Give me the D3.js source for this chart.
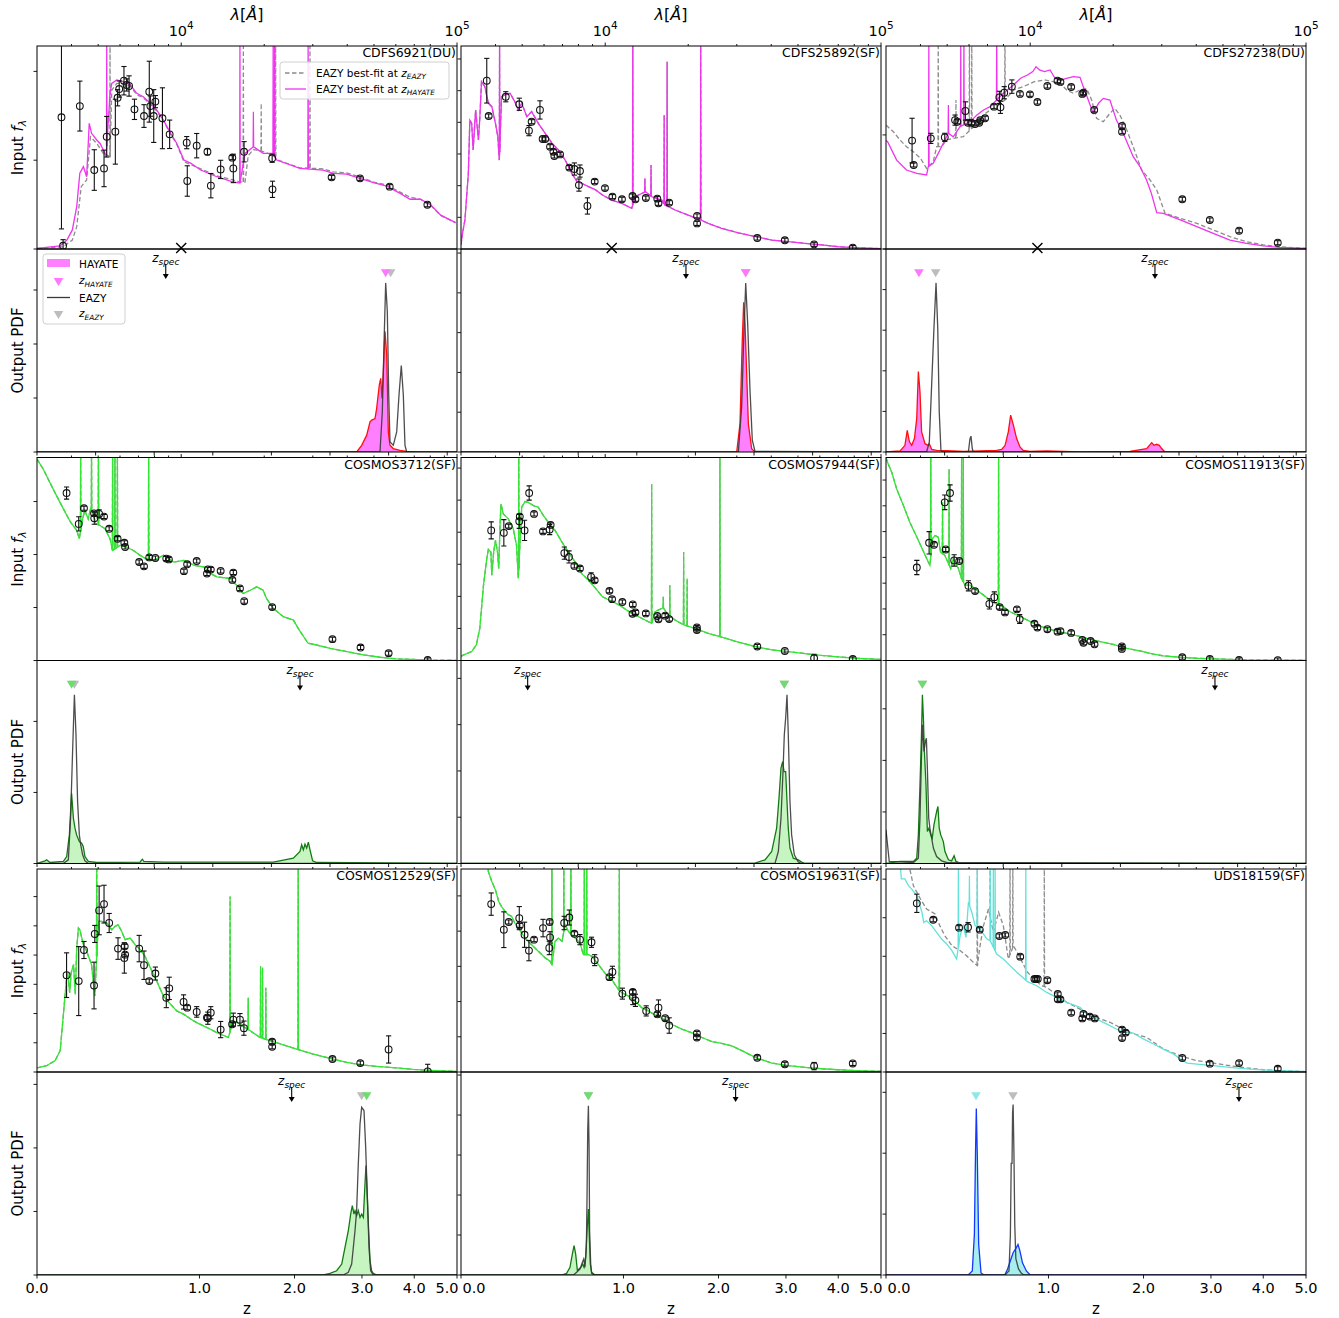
<!DOCTYPE html>
<html>
<head>
<meta charset="utf-8">
<script src="https://cdn.jsdelivr.net/npm/d3@7"></script>
<style>
  body { margin: 0; background: #fff; }
  svg { display: block; font-family: "DejaVu Sans", sans-serif; }
</style>
</head>
<body>
<svg id="fig" width="1339" height="1318"></svg>
<script>
// ---------------------------------------------------------------------------
// Sources, one per column/row cell (row-major)
const sources = ["CDFS6921(DU)", "CDFS25892(SF)", "CDFS27238(DU)",
                 "COSMOS3712(SF)", "COSMOS7944(SF)", "COSMOS11913(SF)",
                 "COSMOS12529(SF)", "COSMOS19631(SF)", "UDS18159(SF)"];

// Redshifts: HAYATE point estimate, EAZY point estimate, spectroscopic
const zHayate = [3.426, 2.369, 0.151, 0.159, 2.972, 0.168, 3.081, 0.722, 0.468];
const zEazy   = [3.521, 2.369, 0.236, 0.173, 2.972, 0.168, 2.995, 0.722, 0.719];
const zSpec   = [0.732, 1.611, 2.150, 2.071, 0.329, 3.069, 1.964, 2.227, 3.508];

// Observed wavelength of the break marker (first row only)
const breakLam = [10000, 10560, 10620];

// Unlabelled y tick spacing (normalised units)
const sedTickStep = [0.4375, 0.156, 0.562, 0.261, 0.158, 0.127, 0.144, 0.1735, 0.19];
const pdfTickStep = [0.266, 0.196, 0.2, 0.35, 0.228, 0.254, 0.313, 0.197, 0.3];

// Axis tick values
const lamMajor = [1e4, 1e5];
const lamMinor = [4000, 5000, 6000, 7000, 8000, 9000, 20000, 30000, 40000, 50000, 60000, 70000, 80000, 90000];
const zLabels = [0, 1, 2, 3, 4, 5];
const lnStep = [0, 0.25, 0.5, 0.75, 1.0, 1.25, 1.5, 1.75];

// ---------------------------------------------------------------------------
// Best-fit spectra [lambda (A), f_lambda normalised]
const specA_hay = [[3000,0.003],[3640,0.015],[3850,0.044],[4030,0.094],[4180,0.209],[4290,0.373],[4420,0.406],[4540,0.356],[4640,0.619],[4730,0.570],[4940,0.537],[5080,0.520],[5220,0.488],[5340,0.455],[5520,0.767],[5600,0.816],[5840,0.833],[6170,0.824],[6550,0.808],[6900,0.767],[7290,0.750],[7730,0.718],[8150,0.685],[8620,0.635],[9160,0.570],[9640,0.520],[10230,0.438],[10850,0.422],[11760,0.389],[13460,0.356],[15450,0.330],[16330,0.325],[17040,0.471],[18270,0.504],[19820,0.471],[21550,0.471],[22200,0.438],[26920,0.397],[32700,0.389],[35600,0.373],[39800,0.369],[44500,0.348],[49800,0.327],[55600,0.310],[62200,0.274],[67600,0.245],[73700,0.245],[80300,0.217],[87300,0.167],[98800,0.130]];
const specA_eazy = [[3000,0.003],[3730,0.011],[4030,0.044],[4180,0.110],[4340,0.307],[4540,0.340],[4690,0.553],[4940,0.520],[5220,0.471],[5520,0.455],[5600,0.783],[5840,0.816],[6170,0.816],[6550,0.800],[6900,0.760],[7290,0.745],[7730,0.713],[8150,0.680],[8620,0.630],[9160,0.565],[9640,0.515],[10230,0.430],[10850,0.415],[11760,0.395],[13460,0.360],[15450,0.340],[16330,0.330],[17040,0.330],[17500,0.460],[18270,0.490],[19820,0.480],[21550,0.460],[22200,0.440],[26920,0.400],[32700,0.395],[35600,0.380],[39800,0.375],[44500,0.355],[49800,0.330],[55600,0.315],[62200,0.280],[67600,0.255],[73700,0.245],[80300,0.215],[87300,0.165],[98800,0.130]];
const linesA_hay = [[5370,1.1],[16330,1.1],[18270,0.676],[21550,1.1],[21770,1.1],[28850,1.1]];
const linesA_eazy = [[5520,1.1],[16800,1.1],[19500,0.718],[22000,1.1],[29300,1.1]];

const specB = [[3000,0.02],[3040,0.080],[3100,0.143],[3190,0.373],[3230,0.635],[3280,0.619],[3320,0.488],[3390,0.685],[3470,0.537],[3510,0.644],[3560,0.824],[3660,0.800],[3770,0.718],[3880,0.701],[4000,0.619],[4080,0.553],[4130,0.438],[4210,0.750],[4330,0.759],[4520,0.767],[4700,0.726],[4840,0.685],[4980,0.718],[5200,0.652],[5410,0.677],[5720,0.619],[6060,0.570],[6410,0.521],[6770,0.488],[7160,0.438],[7560,0.373],[7910,0.332],[8220,0.323],[8700,0.307],[9230,0.291],[9770,0.266],[10560,0.241],[11480,0.225],[12480,0.200],[12830,0.258],[14000,0.282],[14740,0.258],[16020,0.241],[16450,0.217],[17940,0.192],[19980,0.167],[22200,0.143],[23630,0.126],[26420,0.102],[30400,0.080],[35000,0.061],[40200,0.044],[46100,0.036],[53000,0.028],[60900,0.020],[70000,0.011],[80400,0.007],[100000,0.002]];
const linesB = [[4140,1.1],[12590,1.1],[13930,0.348],[14660,0.414],[16360,0.660],[16770,0.923],[22200,1.1]];

const specC_hay = [[3000,0.535],[3040,0.529],[3280,0.438],[3560,0.389],[3880,0.373],[4210,0.365],[4270,0.406],[4450,0.422],[4640,0.471],[4840,0.521],[5050,0.570],[5260,0.553],[5570,0.603],[5880,0.619],[6140,0.635],[6410,0.660],[6770,0.685],[7160,0.701],[7560,0.734],[7990,0.767],[8700,0.808],[9230,0.841],[9770,0.857],[10220,0.874],[10500,0.898],[10800,0.882],[11270,0.874],[11800,0.882],[12300,0.841],[13000,0.833],[13560,0.841],[14340,0.849],[15150,0.846],[15570,0.800],[16240,0.734],[16920,0.668],[17700,0.718],[18400,0.742],[19460,0.734],[20540,0.635],[21740,0.570],[23630,0.455],[25000,0.406],[26420,0.340],[27500,0.274],[28760,0.179],[30400,0.176],[35000,0.143],[40200,0.110],[46100,0.077],[53000,0.044],[60900,0.028],[70000,0.015],[80400,0.008],[100000,0.003]];
const specC_eazy = [[3000,0.610],[3040,0.603],[3190,0.578],[3370,0.537],[3560,0.504],[3770,0.479],[4000,0.447],[4210,0.397],[4450,0.430],[4580,0.504],[4770,0.504],[4980,0.537],[5260,0.545],[5720,0.553],[6410,0.619],[6770,0.660],[7160,0.685],[7560,0.701],[8100,0.734],[8700,0.783],[9450,0.800],[10360,0.824],[11270,0.833],[12150,0.824],[12830,0.816],[13560,0.783],[14340,0.767],[15150,0.783],[16020,0.791],[16700,0.734],[17400,0.644],[18400,0.627],[19460,0.668],[20270,0.693],[21140,0.660],[22400,0.586],[23630,0.504],[25350,0.389],[27200,0.340],[28760,0.291],[30820,0.176],[35000,0.151],[40200,0.126],[46100,0.094],[53000,0.061],[60900,0.036],[70000,0.020],[80400,0.011],[100000,0.003]];
const linesC_hay = [[4290,1.1],[5050,0.709],[5600,1.1],[5750,1.1],[7560,1.1]];
const linesC_eazy = [[4640,1.1],[5380,0.734],[6020,1.1],[6140,1.1],[8100,1.1]];

const specD = [[3000,0.992],[3160,0.943],[3340,0.877],[3530,0.812],[3740,0.747],[3970,0.681],[4180,0.641],[4270,0.600],[4390,0.698],[4470,0.739],[4600,0.698],[4690,0.747],[4800,0.722],[4900,0.673],[5080,0.665],[5290,0.649],[5520,0.600],[5640,0.542],[6000,0.567],[6340,0.559],[6710,0.542],[7100,0.518],[7510,0.498],[7940,0.493],[8620,0.518],[9380,0.485],[10230,0.493],[11130,0.469],[12080,0.461],[12800,0.428],[13460,0.412],[15040,0.404],[15880,0.371],[16780,0.330],[17790,0.346],[18790,0.363],[19820,0.346],[20380,0.306],[21550,0.257],[23460,0.216],[25530,0.199],[26560,0.158],[27280,0.134],[28850,0.085],[30150,0.080],[34700,0.060],[39850,0.044],[45700,0.028],[52550,0.016],[60400,0.008],[69400,0.005],[79800,0.002],[99200,0.001]];
const linesD = [[4320,1.1],[4730,1.1],[5010,1.1],[5640,1.1],[5750,1.1],[5870,1.1],[7620,1.1]];

const specE = [[3000,0.020],[3040,0.025],[3280,0.044],[3410,0.077],[3510,0.158],[3620,0.371],[3720,0.502],[3770,0.547],[3850,0.534],[3880,0.420],[3940,0.534],[4000,0.592],[4070,0.534],[4110,0.453],[4160,0.681],[4190,0.771],[4270,0.722],[4450,0.698],[4640,0.649],[4770,0.567],[4840,0.404],[4980,0.755],[5120,0.783],[5260,0.779],[5490,0.763],[5720,0.755],[5970,0.714],[6220,0.681],[6580,0.641],[6970,0.583],[7350,0.534],[7790,0.485],[8220,0.428],[8700,0.395],[9230,0.355],[9770,0.314],[10360,0.297],[10970,0.281],[11480,0.265],[12480,0.232],[13560,0.208],[14740,0.183],[15150,0.240],[15570,0.248],[16240,0.260],[16920,0.224],[17940,0.199],[19300,0.175],[21140,0.158],[23630,0.134],[26060,0.118],[27980,0.105],[30400,0.090],[35000,0.069],[40200,0.052],[46100,0.044],[53000,0.034],[60900,0.025],[70000,0.018],[80400,0.011],[100000,0.005]];
const linesE = [[4860,1.1],[14740,0.869],[16240,0.314],[17150,0.371],[19250,0.534],[19820,0.404],[26060,1.1]];

const specF = [[3000,1.0],[3040,0.975],[3150,0.926],[3280,0.845],[3470,0.763],[3660,0.681],[3880,0.608],[4110,0.534],[4270,0.485],[4330,0.469],[4420,0.600],[4520,0.616],[4640,0.608],[4730,0.534],[4900,0.518],[5150,0.453],[5260,0.502],[5490,0.453],[5640,0.404],[5800,0.371],[6060,0.371],[6410,0.346],[6770,0.322],[7160,0.297],[7680,0.273],[7990,0.265],[8450,0.240],[8950,0.224],[9770,0.199],[10560,0.175],[11480,0.158],[12480,0.145],[13560,0.134],[14740,0.123],[16020,0.109],[17940,0.093],[19980,0.080],[22400,0.060],[25000,0.047],[28000,0.031],[30400,0.023],[35000,0.016],[40200,0.011],[46100,0.008],[60900,0.003],[80400,0.002],[100000,0.001]];
const linesF = [[4360,1.1],[4810,0.779],[5080,0.943],[5640,1.1],[5720,1.1],[7680,1.1]];

const specG = [[3000,0.020],[3250,0.031],[3490,0.056],[3640,0.105],[3740,0.284],[3840,0.464],[3880,0.489],[3940,0.391],[3990,0.489],[4070,0.529],[4130,0.382],[4180,0.611],[4240,0.709],[4290,0.701],[4420,0.627],[4540,0.595],[4730,0.529],[4860,0.374],[5010,0.742],[5150,0.742],[5370,0.734],[5600,0.701],[5750,0.717],[5910,0.725],[6080,0.693],[6260,0.652],[6530,0.660],[6810,0.627],[7100,0.603],[7390,0.570],[7730,0.513],[8150,0.448],[8620,0.374],[9160,0.333],[9640,0.301],[10230,0.284],[10850,0.260],[11380,0.243],[12400,0.219],[13460,0.194],[14830,0.170],[15450,0.252],[16330,0.235],[17790,0.203],[19300,0.170],[20980,0.154],[23460,0.134],[26200,0.113],[30150,0.088],[34700,0.067],[39850,0.047],[45700,0.034],[52550,0.026],[60400,0.020],[69400,0.013],[79800,0.008],[99200,0.003]];
const linesG = [[4940,1.1],[15040,0.864],[17500,0.366],[19400,0.521],[19720,0.513],[20270,0.415],[26560,1.1]];

const specH = [[3600,1.2],[3770,0.987],[3880,0.938],[4000,0.897],[4110,0.840],[4210,0.815],[4330,0.791],[4450,0.775],[4580,0.766],[4700,0.734],[4840,0.709],[4980,0.685],[5120,0.660],[5410,0.627],[5720,0.595],[6060,0.562],[6310,0.546],[6410,0.529],[6580,0.644],[6770,0.660],[6970,0.644],[7160,0.725],[7350,0.693],[7560,0.676],[7790,0.660],[8100,0.636],[8330,0.578],[8700,0.578],[8950,0.570],[9450,0.529],[10080,0.480],[10560,0.456],[11150,0.407],[11480,0.391],[12150,0.374],[12830,0.350],[13560,0.317],[14340,0.301],[15150,0.281],[16020,0.265],[17400,0.235],[18960,0.211],[20540,0.194],[22400,0.170],[24380,0.150],[26420,0.141],[28760,0.129],[31300,0.105],[35000,0.072],[40200,0.044],[46100,0.031],[53000,0.023],[60900,0.016],[70000,0.011],[80400,0.007],[100000,0.003]];
const linesH = [[6410,1.1],[7080,1.1],[7510,1.1],[8400,1.1],[8570,1.1],[11250,1.1]];

const specI_hay = [[3300,1.1],[3390,1.0],[3410,0.951],[3510,0.951],[3620,0.918],[3720,0.901],[3880,0.869],[4050,0.787],[4110,0.737],[4210,0.745],[4390,0.721],[4580,0.688],[4770,0.655],[4980,0.631],[5200,0.598],[5410,0.557],[5570,0.672],[5720,0.721],[5850,0.663],[5970,0.836],[6140,0.787],[6310,0.721],[6580,0.704],[6970,0.655],[7160,0.647],[7560,0.581],[7990,0.557],[8450,0.524],[8950,0.491],[9770,0.445],[10560,0.425],[11480,0.392],[12480,0.368],[13560,0.343],[15150,0.319],[16020,0.286],[17400,0.261],[18960,0.236],[20540,0.212],[21740,0.195],[23630,0.192],[25700,0.163],[28000,0.138],[30400,0.113],[33040,0.089],[35000,0.064],[37100,0.044],[40200,0.039],[46100,0.031],[53000,0.023],[60900,0.015],[70000,0.010],[80400,0.007],[100000,0.002]];
const specI_eazy = [[3600,1.1],[3660,1.0],[3770,0.918],[4000,0.852],[4210,0.803],[4520,0.778],[4700,0.721],[4900,0.672],[5200,0.622],[5570,0.598],[5880,0.573],[6220,0.540],[6430,0.524],[6580,0.622],[6770,0.721],[7060,0.803],[7350,0.688],[7680,0.787],[7990,0.721],[8330,0.557],[8700,0.622],[9230,0.557],[9770,0.491],[10360,0.458],[10970,0.425],[11480,0.417],[12150,0.392],[12830,0.376],[13560,0.343],[14340,0.327],[15150,0.310],[16450,0.286],[17940,0.261],[19460,0.245],[21140,0.220],[23630,0.188],[26420,0.171],[30400,0.113],[35000,0.080],[40200,0.056],[46100,0.044],[53000,0.031],[60900,0.020],[70000,0.011],[80400,0.007],[100000,0.002]];
const linesI_hay = [[5490,1.1],[6020,0.967],[6430,1.1],[7160,1.1],[7350,1.1],[7460,1.1],[9640,1.1]];
const linesI_eazy = [[6430,1.1],[7160,1.1],[8450,1.1],[8650,1.1],[11250,1.1]];

// ---------------------------------------------------------------------------
// Input photometry [lambda (A), f_lambda, error]
const photA = [[3680,0.649,0.55],[3730,0.016,0.03],[4290,0.704,0.123],[4840,0.389,0.10],[5250,0.397,0.09],[5370,0.553,0.10],[5770,0.578,0.16],[5880,0.745,0.04],[5960,0.788,0.04],[6200,0.829,0.07],[6340,0.808,0.03],[6470,0.803,0.05],[6770,0.688,0.05],[7330,0.655,0.056],[7660,0.775,0.15],[7730,0.704,0.05],[7950,0.655,0.13],[8060,0.726,0.03],[8550,0.644,0.15],[9080,0.565,0.07],[10470,0.524,0.03],[10520,0.335,0.075],[11380,0.509,0.06],[12450,0.479,0.015],[12810,0.312,0.06],[13900,0.392,0.045],[15320,0.450,0.01],[15450,0.397,0.07],[16900,0.479,0.05],[21370,0.447,0.02],[21430,0.294,0.04],[35100,0.353,0.01],[44500,0.348,0.01],[57000,0.307,0.01],[78100,0.218,0.01]];
const photB = [[3720,0.829,0.11],[3780,0.655,0.01],[4360,0.750,0.025],[4880,0.713,0.03],[5290,0.583,0.025],[5410,0.627,0.01],[5800,0.685,0.045],[5930,0.542,0.01],[6060,0.542,0.01],[6310,0.504,0.01],[6490,0.479,0.01],[6540,0.458,0.01],[6860,0.466,0.01],[7410,0.401,0.01],[7730,0.394,0.03],[8100,0.384,0.03],[8030,0.315,0.03],[8620,0.212,0.04],[9160,0.332,0.01],[9980,0.300,0.01],[10620,0.258,0.01],[11500,0.245,0.01],[12560,0.261,0.01],[12870,0.245,0.01],[14040,0.251,0.01],[15450,0.248,0.01],[15600,0.225,0.01],[17060,0.228,0.01],[21530,0.163,0.01],[21530,0.126,0.01],[35600,0.054,0.01],[44800,0.043,0.01],[57200,0.023,0.01],[79000,0.007,0.01]];
const photC = [[3730,0.534,0.11],[3780,0.414,0.01],[4360,0.545,0.025],[4900,0.550,0.02],[5340,0.635,0.025],[5440,0.627,0.01],[5820,0.680,0.045],[5950,0.622,0.01],[6120,0.622,0.01],[6310,0.616,0.01],[6530,0.622,0.01],[6590,0.635,0.01],[6860,0.644,0.01],[7390,0.701,0.01],[7730,0.747,0.03],[7800,0.698,0.03],[8050,0.770,0.03],[8580,0.800,0.033],[9180,0.764,0.01],[9980,0.762,0.01],[10620,0.724,0.01],[11540,0.803,0.01],[12560,0.829,0.01],[12870,0.823,0.01],[14080,0.798,0.01],[15450,0.764,0.01],[15600,0.770,0.01],[17060,0.685,0.01],[21530,0.606,0.01],[21530,0.578,0.01],[35600,0.245,0.01],[44800,0.143,0.01],[57200,0.090,0.01],[79000,0.031,0.01]];
const photD = [[3840,0.825,0.03],[4250,0.673,0.035],[4440,0.750,0.01],[4830,0.725,0.01],[4840,0.701,0.03],[5040,0.722,0.02],[5250,0.709,0.01],[5480,0.649,0.01],[5880,0.600,0.01],[6220,0.580,0.01],[6260,0.559,0.01],[7040,0.485,0.01],[7330,0.464,0.01],[7660,0.508,0.01],[8060,0.505,0.01],[8830,0.502,0.01],[9020,0.498,0.01],[10230,0.440,0.01],[10510,0.474,0.01],[11380,0.490,0.01],[12400,0.428,0.01],[12490,0.449,0.01],[12800,0.448,0.01],[13900,0.441,0.01],[15330,0.397,0.01],[15450,0.433,0.01],[16330,0.355,0.01],[16920,0.292,0.01],[21370,0.263,0.01],[35350,0.105,0.01],[44700,0.064,0.01],[56500,0.036,0.01],[78300,0.003,0.01]];
const photE = [[3860,0.641,0.042],[4290,0.629,0.065],[4470,0.662,0.01],[4880,0.686,0.035],[4900,0.709,0.01],[5100,0.641,0.05],[5300,0.825,0.035],[5520,0.722,0.01],[5950,0.636,0.01],[6290,0.645,0.025],[6340,0.668,0.01],[7110,0.529,0.03],[7390,0.510,0.03],[7730,0.466,0.01],[8100,0.453,0.01],[8890,0.412,0.02],[9160,0.395,0.01],[10360,0.343,0.01],[10590,0.302,0.01],[11540,0.288,0.01],[12590,0.276,0.01],[12560,0.230,0.01],[12870,0.237,0.01],[14040,0.232,0.01],[15450,0.219,0.01],[15600,0.203,0.01],[16500,0.221,0.01],[17060,0.204,0.01],[21500,0.163,0.01],[21500,0.150,0.01],[35600,0.069,0.01],[44800,0.047,0.01],[57200,0.011,0.02],[79000,0.008,0.01]];
const photF = [[3880,0.458,0.035],[4300,0.580,0.055],[4480,0.570,0.01],[4900,0.779,0.036],[4940,0.547,0.01],[5120,0.825,0.04],[5300,0.493,0.028],[5530,0.490,0.01],[5970,0.368,0.025],[6310,0.342,0.01],[7110,0.279,0.025],[7410,0.312,0.026],[7750,0.263,0.01],[8100,0.237,0.01],[8950,0.252,0.01],[9160,0.204,0.022],[10360,0.181,0.01],[10620,0.162,0.01],[11540,0.154,0.01],[12560,0.142,0.01],[12870,0.145,0.01],[14080,0.136,0.01],[15450,0.101,0.01],[15600,0.087,0.01],[16550,0.096,0.01],[17110,0.080,0.01],[21500,0.069,0.01],[21500,0.057,0.01],[35600,0.016,0.01],[44800,0.008,0.01],[57200,0.003,0.01],[79000,0.002,0.01]];
const photG = [[3840,0.477,0.11],[4250,0.448,0.17],[4440,0.601,0.042],[4830,0.426,0.115],[4860,0.680,0.042],[5040,0.796,0.12],[5250,0.827,0.093],[5480,0.734,0.047],[5900,0.608,0.053],[6220,0.562,0.075],[6260,0.578,0.01],[6240,0.619,0.01],[7040,0.608,0.065],[7330,0.526,0.07],[7660,0.448,0.01],[8060,0.485,0.032],[8830,0.366,0.049],[9050,0.412,0.055],[10200,0.345,0.035],[10510,0.317,0.01],[11380,0.296,0.026],[12400,0.268,0.01],[12490,0.265,0.03],[12800,0.292,0.03],[13900,0.209,0.04],[15300,0.235,0.01],[15450,0.258,0.032],[16330,0.258,0.03],[16880,0.216,0.035],[21370,0.149,0.01],[21370,0.124,0.01],[35350,0.064,0.01],[44600,0.044,0.01],[56500,0.111,0.067],[78300,0.003,0.035]];
const photH = [[3860,0.827,0.055],[4290,0.701,0.088],[4470,0.739,0.01],[4880,0.758,0.057],[4900,0.722,0.01],[5100,0.676,0.062],[5290,0.598,0.05],[5520,0.652,0.01],[5950,0.709,0.043],[6290,0.739,0.01],[6270,0.611,0.033],[6310,0.663,0.028],[7100,0.734,0.033],[7410,0.761,0.037],[7730,0.681,0.01],[8100,0.652,0.025],[8920,0.639,0.025],[9160,0.551,0.027],[10360,0.467,0.01],[10620,0.493,0.028],[11540,0.386,0.027],[12590,0.394,0.01],[12590,0.369,0.037],[12870,0.353,0.03],[14080,0.301,0.025],[15450,0.284,0.01],[15600,0.317,0.038],[16500,0.265,0.01],[17060,0.229,0.038],[21500,0.190,0.01],[21500,0.170,0.01],[35600,0.070,0.01],[44800,0.038,0.01],[57200,0.029,0.018],[79000,0.042,0.01]];
const photI = [[3880,0.831,0.045],[4450,0.750,0.01],[5520,0.711,0.01],[5950,0.713,0.023],[6560,0.701,0.01],[7730,0.670,0.01],[8120,0.675,0.01],[9200,0.568,0.01],[10360,0.458,0.01],[10500,0.458,0.01],[10650,0.458,0.01],[11540,0.452,0.01],[12590,0.384,0.01],[12590,0.358,0.01],[12870,0.358,0.01],[14080,0.292,0.01],[15450,0.264,0.01],[15600,0.286,0.01],[16450,0.273,0.01],[17150,0.264,0.01],[21530,0.209,0.01],[21530,0.167,0.01],[22200,0.194,0.01],[35600,0.069,0.01],[44800,0.041,0.01],[57200,0.044,0.01],[79000,0.016,0.01]];

// ---------------------------------------------------------------------------
// Redshift PDFs [z, p normalised]
const pdfA_hay = [[0,0],[2.911,0],[2.995,0.033],[3.082,0.083],[3.140,0.149],[3.170,0.157],[3.229,0.165],[3.259,0.215],[3.307,0.330],[3.333,0.363],[3.357,0.264],[3.382,0.396],[3.413,0.594],[3.445,0.479],[3.476,0.099],[3.508,0.033],[3.572,0.017],[3.705,0.008],[3.841,0.003],[4.052,0],[5,0]];
const pdfA_eazy = [[0,0],[3.320,0],[3.363,0.198],[3.394,0.528],[3.426,0.833],[3.457,0.693],[3.484,0.281],[3.508,0.050],[3.572,0.033],[3.639,0.099],[3.685,0.281],[3.731,0.426],[3.772,0.281],[3.806,0.033],[3.841,0],[5,0]];
const pdfB_hay = [[0,0],[2.242,0],[2.288,0.140],[2.320,0.552],[2.340,0.738],[2.359,0.634],[2.383,0.387],[2.407,0.140],[2.456,0.016],[2.505,0],[5,0]];
const pdfB_eazy = [[0,0],[2.265,0],[2.311,0.222],[2.340,0.552],[2.369,0.832],[2.397,0.634],[2.431,0.305],[2.465,0.058],[2.505,0.003],[5,0]];
const pdfC_hay = [[0,0],[0.062,0.005],[0.084,0.033],[0.095,0.107],[0.105,0.050],[0.116,0.033],[0.129,0.066],[0.140,0.165],[0.148,0.396],[0.156,0.297],[0.164,0.099],[0.181,0.041],[0.198,0.033],[0.203,0.040],[0.215,0.013],[0.241,0.008],[0.295,0.007],[0.391,0.003],[0.493,0.005],[0.603,0.008],[0.638,0.013],[0.662,0.033],[0.685,0.099],[0.702,0.182],[0.722,0.132],[0.746,0.066],[0.771,0.025],[0.796,0.008],[0.848,0.003],[0.985,0.005],[1.288,0],[1.832,0.003],[2.040,0.017],[2.106,0.046],[2.137,0.033],[2.173,0.038],[2.209,0.033],[2.241,0.017],[2.288,0],[5,0]];
const pdfC_eazy = [[0,0],[0.189,0],[0.203,0.050],[0.215,0.330],[0.227,0.611],[0.238,0.833],[0.247,0.611],[0.255,0.198],[0.264,0.008],[0.277,0],[0.421,0],[0.431,0.066],[0.437,0.078],[0.445,0.017],[0.451,0],[5,0]];
const pdfD_hay = [[0,0],[0.035,0.013],[0.042,0.018],[0.057,0.005],[0.119,0.010],[0.135,0.034],[0.148,0.141],[0.159,0.346],[0.168,0.223],[0.176,0.174],[0.184,0.141],[0.198,0.108],[0.210,0.100],[0.218,0.084],[0.227,0.034],[0.245,0.010],[0.290,0.005],[0.552,0.007],[0.567,0.021],[0.578,0.010],[0.714,0.007],[1.741,0.007],[1.985,0.026],[2.071,0.059],[2.093,0.092],[2.115,0.067],[2.137,0.095],[2.160,0.076],[2.182,0.105],[2.205,0.067],[2.241,0.013],[2.297,0.005],[5,0]];
const pdfD_eazy = [[0,0],[0.119,0],[0.143,0.018],[0.154,0.223],[0.164,0.552],[0.173,0.831],[0.181,0.634],[0.189,0.305],[0.198,0.141],[0.205,0.092],[0.215,0.043],[0.227,0.013],[0.245,0],[5,0]];
const pdfE_hay = [[0,0],[2.505,0.002],[2.658,0.018],[2.764,0.059],[2.844,0.174],[2.883,0.322],[2.916,0.470],[2.944,0.502],[2.967,0.453],[2.995,0.453],[3.018,0.305],[3.040,0.174],[3.069,0.076],[3.127,0.026],[3.216,0.018],[3.277,0.007],[3.338,0],[5,0]];
const pdfE_eazy = [[0,0],[2.817,0],[2.872,0.059],[2.916,0.223],[2.950,0.453],[2.972,0.634],[2.995,0.716],[3.018,0.831],[3.040,0.634],[3.069,0.305],[3.098,0.141],[3.145,0.043],[3.216,0.007],[3.277,0],[5,0]];
const pdfF_hay = [[0,0],[0.062,0.010],[0.124,0.010],[0.140,0.026],[0.148,0.141],[0.156,0.388],[0.163,0.617],[0.168,0.831],[0.173,0.716],[0.178,0.552],[0.186,0.388],[0.193,0.158],[0.201,0.174],[0.210,0.141],[0.218,0.125],[0.227,0.190],[0.234,0.223],[0.241,0.256],[0.248,0.281],[0.255,0.174],[0.263,0.141],[0.270,0.125],[0.277,0.108],[0.286,0.059],[0.305,0.018],[0.323,0.013],[0.337,0.038],[0.348,0.010],[0.371,0.002],[5,0]];
const pdfF_eazy = [[0,0.166],[0.014,0.010],[0.124,0.005],[0.148,0.026],[0.156,0.223],[0.164,0.552],[0.169,0.683],[0.176,0.552],[0.183,0.601],[0.188,0.617],[0.193,0.470],[0.200,0.223],[0.206,0.174],[0.215,0.125],[0.224,0.076],[0.241,0.034],[0.268,0.013],[0.295,0.005],[5,0]];
const pdfG_hay = [[0,0],[2.392,0],[2.490,0.008],[2.591,0.021],[2.669,0.054],[2.721,0.136],[2.774,0.218],[2.812,0.300],[2.839,0.342],[2.866,0.300],[2.883,0.317],[2.910,0.292],[2.938,0.317],[2.967,0.284],[2.995,0.300],[3.024,0.284],[3.052,0.448],[3.069,0.539],[3.093,0.383],[3.116,0.218],[3.140,0.071],[3.169,0.021],[3.199,0.008],[3.259,0],[5,0]];
const pdfG_eazy = [[0,0],[2.694,0],[2.774,0.013],[2.828,0.054],[2.883,0.218],[2.910,0.317],[2.938,0.547],[2.967,0.744],[2.995,0.826],[3.035,0.810],[3.064,0.629],[3.093,0.383],[3.122,0.136],[3.151,0.021],[3.199,0],[5,0]];
const pdfH_hay = [[0,0],[0.536,0],[0.569,0.008],[0.592,0.038],[0.608,0.103],[0.620,0.145],[0.631,0.103],[0.643,0.021],[0.654,0.030],[0.668,0.038],[0.680,0.054],[0.690,0.038],[0.702,0.087],[0.712,0.218],[0.722,0.325],[0.729,0.186],[0.736,0.054],[0.746,0.013],[0.771,0],[5,0]];
const pdfH_eazy = [[0,0],[0.615,0],[0.638,0.013],[0.662,0.030],[0.678,0.062],[0.688,0.079],[0.697,0.038],[0.707,0.136],[0.712,0.383],[0.717,0.711],[0.722,0.834],[0.727,0.629],[0.731,0.218],[0.739,0.054],[0.746,0.008],[0.766,0],[5,0]];
const pdfI_hay = [[0,0],[0.420,0],[0.445,0.02],[0.458,0.20],[0.465,0.60],[0.470,0.82],[0.476,0.60],[0.485,0.15],[0.500,0.01],[0.520,0],[0.660,0],[0.680,0.03],[0.700,0.07],[0.720,0.11],[0.740,0.13],[0.756,0.15],[0.770,0.12],[0.790,0.06],[0.820,0.02],[0.850,0],[5,0]];
const pdfI_eazy = [[0,0],[0.660,0],[0.690,0.02],[0.700,0.20],[0.706,0.55],[0.712,0.55],[0.716,0.80],[0.720,0.84],[0.726,0.60],[0.732,0.25],[0.740,0.08],[0.760,0.03],[0.780,0.01],[0.800,0],[5,0]];

// ---------------------------------------------------------------------------
// Colour sets for the HAYATE-side curves
const themes = {
  magenta: { line: "#ef33ef", fill: "#ff80ff", edge: "#ff1010", tri: "#ff77ff" },
  green:   { line: "#33e633", fill: "#c6f5c2", edge: "#137a13", tri: "#6fdc6f" },
  cyan:    { line: "#62e2da", fill: "#a8eeee", edge: "#1437ff", tri: "#8fe8e8" }
};

const panelTable = [
  { specHay: specA_hay, specEazy: specA_eazy, linesHay: linesA_hay, linesEazy: linesA_eazy, phot: photA, pdfHay: pdfA_hay, pdfEazy: pdfA_eazy, theme: "magenta" },
  { specHay: specB, specEazy: specB, linesHay: linesB, linesEazy: linesB, phot: photB, pdfHay: pdfB_hay, pdfEazy: pdfB_eazy, theme: "magenta" },
  { specHay: specC_hay, specEazy: specC_eazy, linesHay: linesC_hay, linesEazy: linesC_eazy, phot: photC, pdfHay: pdfC_hay, pdfEazy: pdfC_eazy, theme: "magenta" },
  { specHay: specD, specEazy: specD, linesHay: linesD, linesEazy: linesD, phot: photD, pdfHay: pdfD_hay, pdfEazy: pdfD_eazy, theme: "green" },
  { specHay: specE, specEazy: specE, linesHay: linesE, linesEazy: linesE, phot: photE, pdfHay: pdfE_hay, pdfEazy: pdfE_eazy, theme: "green" },
  { specHay: specF, specEazy: specF, linesHay: linesF, linesEazy: linesF, phot: photF, pdfHay: pdfF_hay, pdfEazy: pdfF_eazy, theme: "green" },
  { specHay: specG, specEazy: specG, linesHay: linesG, linesEazy: linesG, phot: photG, pdfHay: pdfG_hay, pdfEazy: pdfG_eazy, theme: "green" },
  { specHay: specH, specEazy: specH, linesHay: linesH, linesEazy: linesH, phot: photH, pdfHay: pdfH_hay, pdfEazy: pdfH_eazy, theme: "green" },
  { specHay: specI_hay, specEazy: specI_eazy, linesHay: linesI_hay, linesEazy: linesI_eazy, phot: photI, pdfHay: pdfI_hay, pdfEazy: pdfI_eazy, theme: "cyan" }
];

// ---------------------------------------------------------------------------
// Layout
const colLeft = [37, 461, 886];
const colW = 420;
const rowTop = [46, 457.5, 869];
const axH = 203;
const EAZY_LINE = "#3a3a3a";
const EAZY_TRI = "#bdbdbd";
const MODEL_GRAY = "#8c8c8c";

const svg = d3.select("#fig");
const defs = svg.append("defs");

function contAt(spec, lam) {
  const i = d3.bisector(d => d[0]).left(spec, lam);
  if (i <= 0) return spec[0][1];
  if (i >= spec.length) return spec[spec.length - 1][1];
  const a = spec[i - 1], b = spec[i];
  const t = (Math.log(lam) - Math.log(a[0])) / (Math.log(b[0]) - Math.log(a[0]));
  return a[1] + t * (b[1] - a[1]);
}

function downTri(g, x, y, color) {
  return g.append("path")
    .attr("d", `M${x - 4.8},${y - 4}L${x + 4.8},${y - 4}L${x},${y + 4}Z`)
    .attr("fill", color);
}

function zspecLabel(g, x, y) {
  const t = g.append("text").attr("x", x).attr("y", y).attr("text-anchor", "middle")
    .attr("font-size", 12).attr("font-style", "italic").attr("fill", "#000");
  t.append("tspan").text("z");
  t.append("tspan").attr("font-size", 9).attr("dy", 3).text("spec");
}

panelTable.forEach((p, i) => {
  const c = i % 3, r = Math.floor(i / 3);
  const th = themes[p.theme];
  const x0 = colLeft[c], x1 = x0 + colW;
  const sTop = rowTop[r], sBot = sTop + axH, pBot = sBot + axH;

  const xL = d3.scaleLog().domain([3000, 1e5]).range([x0, x1]);
  const yS = d3.scaleLinear().domain([0, 1]).range([sBot, sTop]);
  const xZ = d3.scaleLog().domain([1, 6]).range([x0, x1]);   // plotted in ln(1+z)
  const yP = d3.scaleLinear().domain([0, 1]).range([pBot, sBot]);

  defs.append("clipPath").attr("id", "cs" + i).append("rect")
    .attr("x", x0).attr("y", sTop).attr("width", colW).attr("height", axH);
  defs.append("clipPath").attr("id", "cp" + i).append("rect")
    .attr("x", x0).attr("y", sBot).attr("width", colW).attr("height", axH);

  // ---- SED panel ----
  const gs = svg.append("g").attr("clip-path", `url(#cs${i})`);
  const line = d3.line().x(d => xL(d[0])).y(d => yS(d[1]));
  const spike = (spec, l) => {
    const base = contAt(spec, l[0]);
    return line([[l[0] / 1.0025, base], [l[0], l[1]], [l[0] * 1.0025, base]]);
  };

  gs.append("path").attr("d", line(p.specEazy)).attr("fill", "none")
    .attr("stroke", MODEL_GRAY).attr("stroke-width", 1.3).attr("stroke-dasharray", "4.5,2.5");
  p.linesEazy.forEach(l => gs.append("path").attr("d", spike(p.specEazy, l)).attr("fill", "none")
    .attr("stroke", MODEL_GRAY).attr("stroke-width", 1.2).attr("stroke-dasharray", "4.5,2.5"));

  gs.append("path").attr("d", line(p.specHay)).attr("fill", "none")
    .attr("stroke", th.line).attr("stroke-width", 1.3);
  p.linesHay.forEach(l => gs.append("path").attr("d", spike(p.specHay, l)).attr("fill", "none")
    .attr("stroke", th.line).attr("stroke-width", 1.2));

  p.phot.forEach(d => {
    const x = xL(d[0]), y = yS(d[1]), ya = yS(d[1] + d[2]), yb = yS(d[1] - d[2]);
    gs.append("line").attr("x1", x).attr("x2", x).attr("y1", ya).attr("y2", yb)
      .attr("stroke", "#111").attr("stroke-width", 1.1);
    [ya, yb].forEach(yy => gs.append("line").attr("x1", x - 2.6).attr("x2", x + 2.6)
      .attr("y1", yy).attr("y2", yy).attr("stroke", "#111").attr("stroke-width", 1.1));
    gs.append("circle").attr("cx", x).attr("cy", y).attr("r", 3.4)
      .attr("fill", "none").attr("stroke", "#111").attr("stroke-width", 1.05);
  });

  // ---- PDF panel ----
  const gp = svg.append("g").attr("clip-path", `url(#cp${i})`);
  const zx = d => xZ(1 + d[0]);
  gp.append("path").attr("d", d3.area().x(zx).y0(pBot).y1(d => yP(d[1]))(p.pdfHay))
    .attr("fill", th.fill);
  gp.append("path").attr("d", d3.line().x(zx).y(d => yP(d[1]))(p.pdfHay))
    .attr("fill", "none").attr("stroke", th.edge).attr("stroke-width", 1.3);
  gp.append("path").attr("d", d3.line().x(zx).y(d => yP(d[1]))(p.pdfEazy))
    .attr("fill", "none").attr("stroke", EAZY_LINE).attr("stroke-width", 1.3).attr("stroke-opacity", 0.9);

  const yTri = yP(0.88);
  downTri(gp, xZ(1 + zEazy[i]), yTri, EAZY_TRI);
  downTri(gp, xZ(1 + zHayate[i]), yTri, th.tri);
  const xs = xZ(1 + zSpec[i]);
  zspecLabel(svg, xs, sBot + 13);
  svg.append("line").attr("x1", xs).attr("x2", xs).attr("y1", sBot + 15).attr("y2", sBot + 27)
    .attr("stroke", "#000").attr("stroke-width", 1.1);
  svg.append("path").attr("d", `M${xs - 3},${sBot + 25}L${xs + 3},${sBot + 25}L${xs},${sBot + 30}Z`)
    .attr("fill", "#000");

  // ---- ticks ----
  const tk = svg.append("g").attr("stroke", "#000").attr("stroke-width", 0.9);
  d3.range(0, 1.0001, sedTickStep[i]).forEach(t => tk.append("line")
    .attr("x1", x0 - 3.5).attr("x2", x0).attr("y1", yS(t)).attr("y2", yS(t)));
  d3.range(0, 1.0001, pdfTickStep[i]).forEach(t => tk.append("line")
    .attr("x1", x0 - 3.5).attr("x2", x0).attr("y1", yP(t)).attr("y2", yP(t)));
  lamMajor.forEach(v => tk.append("line").attr("x1", xL(v)).attr("x2", xL(v))
    .attr("y1", sTop - 3.5).attr("y2", sTop));
  lamMinor.forEach(v => tk.append("line").attr("x1", xL(v)).attr("x2", xL(v))
    .attr("y1", sTop - 2).attr("y2", sTop));
  if (r < 2) {
    lnStep.forEach(v => tk.append("line").attr("x1", xZ(Math.exp(v))).attr("x2", xZ(Math.exp(v)))
      .attr("y1", pBot).attr("y2", pBot + 3.5));
  } else {
    zLabels.forEach(v => {
      tk.append("line").attr("x1", xZ(1 + v)).attr("x2", xZ(1 + v)).attr("y1", pBot).attr("y2", pBot + 3.5);
      // labels that meet a neighbouring column are tucked inside the edge
      let anchor = "middle", lx = xZ(1 + v);
      if (v === 5 && c < 2) { anchor = "end"; lx = x1 + 1.5; }
      if (v === 0 && c > 0) { anchor = "start"; lx = x0 + 1.5; }
      svg.append("text").attr("x", lx).attr("y", pBot + 18).attr("text-anchor", anchor)
        .attr("font-size", 14.5).text(v.toFixed(1));
    });
    svg.append("text").attr("x", (x0 + x1) / 2).attr("y", pBot + 39).attr("text-anchor", "middle")
      .attr("font-size", 15).text("z");
  }

  // ---- spines ----
  svg.append("rect").attr("x", x0).attr("y", sTop).attr("width", colW).attr("height", axH)
    .attr("fill", "none").attr("stroke", "#000").attr("stroke-width", 1);
  svg.append("rect").attr("x", x0).attr("y", sBot).attr("width", colW).attr("height", axH)
    .attr("fill", "none").attr("stroke", "#000").attr("stroke-width", 1);

  // ---- source name ----
  svg.append("text").attr("x", x1 - 1).attr("y", sTop + 11).attr("text-anchor", "end")
    .attr("font-size", 12.5).text(sources[i]);

  // ---- top wavelength axis on the first row ----
  if (r === 0) {
    [[1e4, "4"], [1e5, "5"]].forEach(([v, e]) => {
      const t = svg.append("text").attr("x", xL(v)).attr("y", 36).attr("text-anchor", "middle")
        .attr("font-size", 14.5);
      t.append("tspan").text("10");
      t.append("tspan").attr("font-size", 10.5).attr("dy", -7).text(e);
    });
    const lt = svg.append("text").attr("x", (x0 + x1) / 2).attr("y", 20).attr("text-anchor", "middle")
      .attr("font-size", 16);
    lt.append("tspan").attr("font-style", "italic").text("λ");
    lt.append("tspan").text("[");
    lt.append("tspan").attr("font-style", "italic").text("Å");
    lt.append("tspan").text("]");

    const bx = xL(breakLam[c]);
    svg.append("path").attr("d", `M${bx - 5},${sBot - 6}L${bx + 5},${sBot + 4}M${bx - 5},${sBot + 4}L${bx + 5},${sBot - 6}`)
      .attr("stroke", "#000").attr("stroke-width", 1.4).attr("fill", "none");
  }

  // ---- row axis labels ----
  if (c === 0) {
    const a = svg.append("text").attr("transform", `translate(23,${(sTop + sBot) / 2}) rotate(-90)`)
      .attr("text-anchor", "middle").attr("font-size", 15);
    a.append("tspan").text("Input ");
    a.append("tspan").attr("font-style", "italic").text("f");
    a.append("tspan").attr("font-style", "italic").attr("font-size", 11).attr("dy", 3).text("λ");
    svg.append("text").attr("transform", `translate(23,${(sBot + pBot) / 2}) rotate(-90)`)
      .attr("text-anchor", "middle").attr("font-size", 15).text("Output PDF");
  }
});

// ---------------------------------------------------------------------------
// Legends (first panel pair)
function subLabel(g, x, y, main, sub, size) {
  const t = g.append("text").attr("x", x).attr("y", y).attr("font-size", size);
  t.append("tspan").text(main);
  t.append("tspan").attr("font-style", "italic").text("z");
  t.append("tspan").attr("font-style", "italic").attr("font-size", size * 0.7).attr("dy", 2.5).text(sub);
  return t;
}

const lg1 = svg.append("g");
lg1.append("rect").attr("x", 280).attr("y", 62).attr("width", 169).attr("height", 37).attr("rx", 3)
  .attr("fill", "#fff").attr("fill-opacity", 0.85).attr("stroke", "#d0d0d0");
lg1.append("line").attr("x1", 285).attr("x2", 306).attr("y1", 73).attr("y2", 73)
  .attr("stroke", MODEL_GRAY).attr("stroke-width", 1.3).attr("stroke-dasharray", "4.5,2.5");
lg1.append("line").attr("x1", 285).attr("x2", 306).attr("y1", 89).attr("y2", 89)
  .attr("stroke", themes.magenta.line).attr("stroke-width", 1.3);
subLabel(lg1, 316, 76.5, "EAZY best-fit at ", "EAZY", 10.5);
subLabel(lg1, 316, 92.5, "EAZY best-fit at ", "HAYATE", 10.5);

const lg2 = svg.append("g");
lg2.append("rect").attr("x", 43).attr("y", 254).attr("width", 82).attr("height", 70).attr("rx", 3)
  .attr("fill", "#fff").attr("fill-opacity", 0.85).attr("stroke", "#d0d0d0");
lg2.append("rect").attr("x", 47).attr("y", 259).attr("width", 23).attr("height", 8)
  .attr("fill", themes.magenta.fill);
lg2.append("text").attr("x", 79).attr("y", 268).attr("font-size", 10.5).text("HAYATE");
downTri(lg2, 58.5, 282, themes.magenta.tri);
subLabel(lg2, 79, 284, "", "HAYATE", 10.5);
lg2.append("line").attr("x1", 47).attr("x2", 70).attr("y1", 297.5).attr("y2", 297.5)
  .attr("stroke", EAZY_LINE).attr("stroke-width", 1.3);
lg2.append("text").attr("x", 79).attr("y", 301.5).attr("font-size", 10.5).text("EAZY");
downTri(lg2, 58.5, 315, EAZY_TRI);
subLabel(lg2, 79, 317, "", "EAZY", 10.5);
</script>
</body>
</html>
